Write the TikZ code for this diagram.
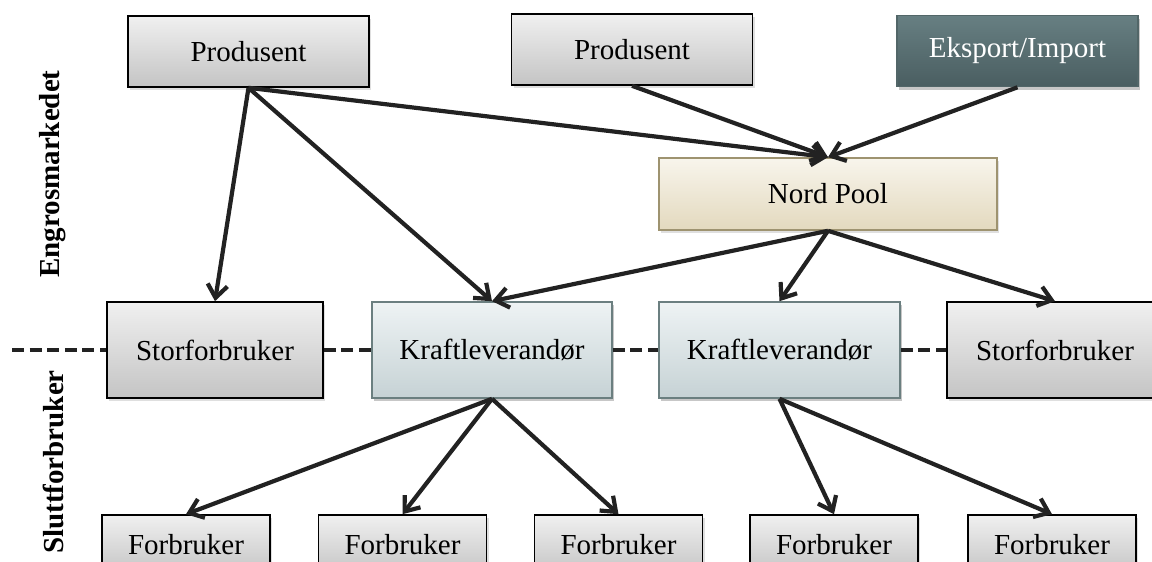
\documentclass[tikz,border=0pt]{standalone}
\usepackage{fontspec}
\setmainfont{Liberation Serif}
\usetikzlibrary{arrows.meta, shadows}
\definecolor{greytop}{HTML}{F0F0F0}
\definecolor{greybot}{HTML}{C4C4C4}
\definecolor{krafttop}{HTML}{EEF3F4}
\definecolor{kraftbot}{HTML}{C6D2D5}
\definecolor{kraftline}{HTML}{6B7F80}
\definecolor{nordtop}{HTML}{F8F5EC}
\definecolor{nordbot}{HTML}{E3D9BE}
\definecolor{nordline}{HTML}{9E9370}
\definecolor{exptop}{HTML}{677F82}
\definecolor{expbot}{HTML}{4A5E61}
\definecolor{linegrey}{HTML}{222222}

\begin{document}
\begin{tikzpicture}[x=0.5pt, y=-0.5pt, font=\fontsize{14.5}{17}\selectfont,
        box/.style={rectangle, draw=black, line width=0.8pt, align=center, inner sep=2pt,
            top color=greytop, bottom color=greybot,
            drop shadow={opacity=0.25, shadow xshift=1pt, shadow yshift=-1.5pt}},
        kraftbox/.style={box, draw=kraftline, top color=krafttop, bottom color=kraftbot},
        nordbox/.style={box, draw=nordline, top color=nordtop, bottom color=nordbot},
        expbox/.style={box, draw=exptop!80!black, top color=exptop, bottom color=expbot, text=white},
        prodbox/.style={box, minimum width=120.5pt, minimum height=35.5pt},
        storbox/.style={box, minimum width=108pt, minimum height=48pt},
        forbox/.style={box, minimum width=84pt, minimum height=30pt},
        arrow/.style={-{Straight Barb[length=6.5pt, width=10pt]}, line width=2.1pt, color=linegrey},
        divider/.style={line width=2.1pt, color=linegrey, dash pattern=on 6pt off 2.8pt},
        side/.style={rotate=90, font=\fontsize{14.5}{17}\selectfont\bfseries}]
    \useasboundingbox (0,0) rectangle (1152,562);
    \clip (0,0) rectangle (1152,562);

    % engrosmarkedet
    \node[prodbox] (prod1) at (248.5,51.5) {Produsent};
    \node[prodbox] (prod2) at (632,49.5) {Produsent};
    \node[prodbox, expbox] (eksport) at (1017.5,51) {Eksport/Import};
    \node[nordbox, minimum width=169pt, minimum height=36pt] (nord) at (828,194) {Nord Pool};

    % mellomnivaa
    \node[storbox] (stor1) at (215,350) {Storforbruker};
    \node[storbox, kraftbox, minimum width=120pt] (kraft1) at (492,350) {Kraftleverandør};
    \node[storbox, kraftbox, minimum width=120.5pt] (kraft2) at (779.5,350) {Kraftleverandør};
    \node[storbox] (stor2) at (1055,350) {Storforbruker};

    % sluttforbrukere
    \node[forbox] (for1) at (186,545) {Forbruker};
    \node[forbox] (for2) at (402.5,545) {Forbruker};
    \node[forbox] (for3) at (618.5,545) {Forbruker};
    \node[forbox] (for4) at (834,545) {Forbruker};
    \node[forbox] (for5) at (1052,545) {Forbruker};

    \node[side] (engros) at (53,174) {Engrosmarkedet};
    \node[side] (slutt) at (53,462) {Sluttforbruker};

    % skillelinje
    \coordinate (start) at (12,350);
    \draw[divider] (start) -- (stor1.west);
    \draw[divider] (stor1.east) -- (kraft1.west);
    \draw[divider] (kraft1.east) -- (kraft2.west);
    \draw[divider] (kraft2.east) -- (stor2.west);

    \draw[arrow] (prod1.south) -- (stor1.north);
    \draw[arrow] (prod1.south) -- (kraft1.north);
    \draw[arrow] (prod1.south) -- (nord.north);
    \draw[arrow] (prod2.south) -- (nord.north);
    \draw[arrow] (eksport.south) -- (nord.north);

    \draw[arrow] (nord.south) -- (kraft1.north);
    \draw[arrow] (nord.south) -- (kraft2.north);
    \draw[arrow] (nord.south) -- (stor2.north);

    \draw[arrow] (kraft1.south) -- (for1.north);
    \draw[arrow] (kraft1.south) -- (for2.north);
    \draw[arrow] (kraft1.south) -- (for3.north);
    \draw[arrow] (kraft2.south) -- (for4.north);
    \draw[arrow] (kraft2.south) -- (for5.north);
\end{tikzpicture}
\end{document}
